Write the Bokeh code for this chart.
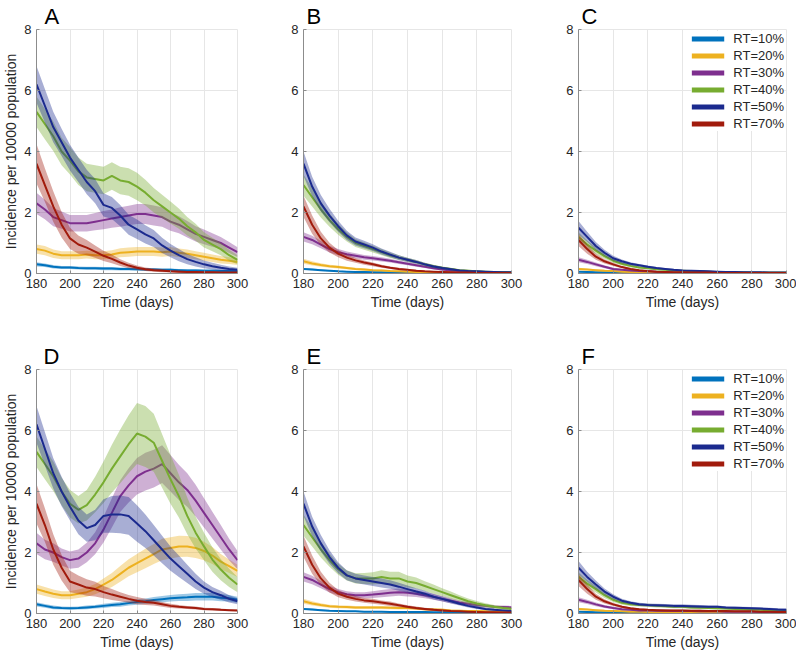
from bokeh.plotting import figure
from bokeh.layouts import row, column
from bokeh.models import Range1d, FixedTicker, Legend, LegendItem
from bokeh.embed import file_html
from bokeh.resources import INLINE

# ---------------- data ----------------
DAYS = [180, 185, 190, 195, 200, 205, 210, 215, 220, 225, 230, 235, 240,
        245, 250, 255, 260, 265, 270, 275, 280, 285, 290, 295, 300]
X_TICKS = [180, 200, 220, 240, 260, 280, 300]
Y_TICKS = [0, 2, 4, 6, 8]
LABELS = ["RT=10%", "RT=20%", "RT=30%", "RT=40%", "RT=50%", "RT=70%"]
COLORS = ["#0072BD", "#EDB120", "#7E2F8E", "#77AC30", "#1B2A8E", "#A11B0C"]
PANEL_LETTERS = ["A", "B", "C", "D", "E", "F"]

# Panel A
A10 = [0.30,0.27,0.22,0.20,0.20, 0.18,0.17,0.17,0.16,0.16, 0.15,0.15,0.14,0.13,0.13, 0.12,0.12,0.11,0.10,0.10, 0.09,0.09,0.08,0.08,0.07]
A20 = [0.80,0.75,0.65,0.60,0.60, 0.60,0.62,0.60,0.60,0.62, 0.68,0.70,0.72,0.72,0.72, 0.70,0.72,0.68,0.65,0.60, 0.55,0.50,0.45,0.42,0.38]
A30 = [2.30,2.10,1.85,1.75,1.65, 1.65,1.65,1.70,1.75,1.80, 1.85,1.90,1.95,1.95,1.90, 1.85,1.70,1.60,1.45,1.30, 1.20,1.10,1.00,0.85,0.70]
A40 = [5.30,4.90,4.50,4.00,3.70, 3.35,3.15,3.10,3.05,3.20, 3.05,3.00,2.85,2.65,2.40, 2.20,2.00,1.80,1.55,1.35, 1.10,0.95,0.80,0.60,0.45]
A50 = [6.20,5.50,4.80,4.30,3.80, 3.40,3.00,2.70,2.25,2.15, 1.90,1.60,1.45,1.28,1.15, 0.92,0.75,0.60,0.47,0.38, 0.30,0.24,0.19,0.15,0.12]
A70 = [3.60,2.90,2.20,1.60,1.15, 0.95,0.85,0.72,0.58,0.48, 0.36,0.26,0.19,0.14,0.11, 0.09,0.07,0.06,0.05,0.05, 0.04,0.04,0.03,0.03,0.03]
A10_B = [0.07,0.06,0.06,0.05,0.05, 0.05,0.05,0.05,0.05,0.05, 0.05,0.05,0.05,0.05,0.05, 0.04,0.04,0.04,0.04,0.04, 0.04,0.04,0.04,0.04,0.04]
A20_B = [0.15,0.15,0.14,0.13,0.13, 0.13,0.13,0.13,0.13,0.14, 0.15,0.15,0.15,0.15,0.15, 0.15,0.15,0.14,0.14,0.13, 0.13,0.12,0.12,0.11,0.10]
A30_B = [0.35,0.32,0.30,0.28,0.27, 0.27,0.27,0.28,0.30,0.30, 0.32,0.32,0.33,0.33,0.33, 0.32,0.30,0.28,0.27,0.25, 0.24,0.22,0.20,0.18,0.16]
A40_B = [0.50,0.50,0.48,0.45,0.45, 0.45,0.45,0.45,0.45,0.45, 0.45,0.45,0.45,0.42,0.40, 0.38,0.36,0.33,0.30,0.28, 0.25,0.22,0.20,0.18,0.15]
A50_B = [0.60,0.55,0.50,0.45,0.42, 0.40,0.40,0.40,0.38,0.36, 0.35,0.33,0.32,0.30,0.28, 0.25,0.22,0.20,0.17,0.15, 0.13,0.11,0.10,0.08,0.07]
A70_B = [0.65,0.55,0.50,0.42,0.35, 0.30,0.25,0.20,0.17,0.14, 0.11,0.09,0.07,0.06,0.05, 0.05,0.04,0.04,0.03,0.03, 0.03,0.03,0.03,0.03,0.03]

# Panel B
B10 = [0.15,0.13,0.11,0.09,0.07, 0.06,0.05,0.05,0.04,0.04, 0.03,0.03,0.03,0.02,0.02, 0.02,0.02,0.02,0.01,0.01, 0.01,0.01,0.01,0.01,0.01]
B20 = [0.40,0.33,0.28,0.24,0.21, 0.18,0.15,0.13,0.11,0.10, 0.08,0.07,0.06,0.05,0.05, 0.04,0.04,0.03,0.03,0.03, 0.02,0.02,0.02,0.02,0.02]
B30 = [1.20,1.10,0.95,0.80,0.70, 0.63,0.58,0.53,0.50,0.46, 0.42,0.37,0.32,0.27,0.22, 0.17,0.13,0.10,0.08,0.06, 0.05,0.04,0.03,0.03,0.02]
B40 = [2.90,2.50,2.10,1.75,1.45, 1.20,1.00,0.90,0.80,0.70, 0.60,0.52,0.45,0.38,0.30, 0.24,0.19,0.15,0.11,0.09, 0.07,0.06,0.05,0.05,0.04]
B50 = [3.60,2.85,2.30,1.90,1.55, 1.25,1.05,0.95,0.85,0.72, 0.62,0.52,0.45,0.38,0.30, 0.23,0.18,0.14,0.10,0.08, 0.07,0.06,0.05,0.04,0.04]
B70 = [2.20,1.60,1.15,0.85,0.65, 0.52,0.43,0.36,0.30,0.24, 0.19,0.15,0.12,0.09,0.07, 0.06,0.05,0.04,0.03,0.03, 0.02,0.02,0.02,0.02,0.02]
B10_B = [0.03,0.03,0.03,0.02,0.02, 0.02,0.02,0.02,0.02,0.02, 0.01,0.01,0.01,0.01,0.01, 0.01,0.01,0.01,0.01,0.01, 0.01,0.01,0.01,0.01,0.01]
B20_B = [0.08,0.07,0.06,0.05,0.05, 0.04,0.04,0.04,0.03,0.03, 0.03,0.03,0.02,0.02,0.02, 0.02,0.02,0.02,0.01,0.01, 0.01,0.01,0.01,0.01,0.01]
B30_B = [0.15,0.14,0.12,0.11,0.10, 0.09,0.08,0.08,0.07,0.07, 0.06,0.06,0.05,0.05,0.04, 0.04,0.03,0.03,0.03,0.02, 0.02,0.02,0.02,0.02,0.02]
B40_B = [0.35,0.30,0.26,0.22,0.18, 0.15,0.13,0.12,0.11,0.10, 0.09,0.08,0.07,0.06,0.05, 0.05,0.04,0.04,0.03,0.03, 0.03,0.02,0.02,0.02,0.02]
B50_B = [0.40,0.32,0.27,0.22,0.18, 0.15,0.13,0.12,0.11,0.10, 0.09,0.08,0.07,0.06,0.05, 0.05,0.04,0.04,0.03,0.03, 0.03,0.02,0.02,0.02,0.02]
B70_B = [0.35,0.30,0.22,0.16,0.12, 0.10,0.08,0.07,0.06,0.05, 0.04,0.04,0.03,0.03,0.02, 0.02,0.02,0.02,0.01,0.01, 0.01,0.01,0.01,0.01,0.01]

# Panel C
C10 = [0.06,0.05,0.04,0.04,0.03, 0.03,0.02,0.02,0.02,0.02, 0.01,0.01,0.01,0.01,0.01, 0.01,0.01,0.01,0.01,0.01, 0.01,0.01,0.01,0.01,0.01]
C20 = [0.15,0.13,0.11,0.09,0.08, 0.06,0.05,0.04,0.04,0.03, 0.03,0.02,0.02,0.02,0.02, 0.01,0.01,0.01,0.01,0.01, 0.01,0.01,0.01,0.01,0.01]
C30 = [0.45,0.38,0.30,0.22,0.15, 0.12,0.10,0.08,0.07,0.06, 0.05,0.04,0.04,0.03,0.03, 0.03,0.02,0.02,0.02,0.02, 0.02,0.02,0.02,0.02,0.02]
C40 = [1.20,0.95,0.75,0.57,0.42, 0.32,0.25,0.20,0.17,0.14, 0.12,0.10,0.09,0.08,0.07, 0.06,0.05,0.05,0.04,0.04, 0.03,0.03,0.03,0.03,0.03]
C50 = [1.50,1.20,0.90,0.68,0.50, 0.40,0.32,0.27,0.22,0.18, 0.15,0.12,0.10,0.09,0.08, 0.07,0.06,0.05,0.05,0.04, 0.04,0.04,0.03,0.03,0.03]
C70 = [1.10,0.80,0.55,0.40,0.30, 0.21,0.15,0.11,0.08,0.06, 0.05,0.04,0.04,0.03,0.03, 0.03,0.02,0.02,0.02,0.02, 0.02,0.02,0.02,0.02,0.02]
C10_B = [0.02,0.02,0.02,0.02,0.01, 0.01,0.01,0.01,0.01,0.01, 0.01,0.01,0.01,0.01,0.01, 0.01,0.01,0.01,0.01,0.01, 0.01,0.01,0.01,0.01,0.01]
C20_B = [0.04,0.03,0.03,0.03,0.02, 0.02,0.02,0.02,0.01,0.01, 0.01,0.01,0.01,0.01,0.01, 0.01,0.01,0.01,0.01,0.01, 0.01,0.01,0.01,0.01,0.01]
C30_B = [0.08,0.07,0.06,0.05,0.04, 0.03,0.03,0.02,0.02,0.02, 0.02,0.01,0.01,0.01,0.01, 0.01,0.01,0.01,0.01,0.01, 0.01,0.01,0.01,0.01,0.01]
C40_B = [0.15,0.13,0.11,0.09,0.07, 0.06,0.05,0.04,0.03,0.03, 0.03,0.02,0.02,0.02,0.02, 0.02,0.02,0.02,0.02,0.02, 0.02,0.02,0.02,0.02,0.02]
C50_B = [0.22,0.17,0.13,0.10,0.08, 0.06,0.05,0.04,0.04,0.03, 0.03,0.03,0.02,0.02,0.02, 0.02,0.02,0.02,0.02,0.02, 0.02,0.02,0.02,0.02,0.02]
C70_B = [0.20,0.15,0.10,0.07,0.05, 0.04,0.03,0.02,0.02,0.02, 0.01,0.01,0.01,0.01,0.01, 0.01,0.01,0.01,0.01,0.01, 0.01,0.01,0.01,0.01,0.01]

# Panel D
D10 = [0.30,0.25,0.20,0.18,0.17, 0.18,0.20,0.22,0.25,0.28, 0.30,0.34,0.38,0.40,0.44, 0.47,0.50,0.52,0.53,0.55, 0.55,0.55,0.52,0.50,0.45]
D20 = [0.80,0.72,0.65,0.60,0.60, 0.65,0.70,0.80,0.95,1.10, 1.30,1.50,1.65,1.80,1.95, 2.10,2.15,2.20,2.20,2.15, 2.05,1.90,1.70,1.55,1.40]
D30 = [2.30,2.10,2.00,1.85,1.75, 1.80,2.00,2.30,2.75,3.30, 3.85,4.20,4.50,4.65,4.75, 4.90,4.60,4.30,4.05,3.70, 3.30,2.90,2.50,2.10,1.75]
D40 = [5.30,4.90,4.50,4.00,3.60, 3.40,3.55,3.90,4.30,4.75, 5.15,5.55,5.90,5.80,5.60, 5.00,4.40,3.85,3.20,2.65, 2.20,1.77,1.44,1.17,0.95]
D50 = [6.20,5.40,4.60,4.00,3.50, 3.05,2.80,2.90,3.20,3.25, 3.25,3.20,2.95,2.70,2.40, 2.10,1.80,1.55,1.30,1.05, 0.85,0.70,0.60,0.48,0.40]
D70 = [3.60,2.90,2.10,1.50,1.05, 0.95,0.85,0.80,0.70,0.62, 0.55,0.48,0.42,0.38,0.35, 0.30,0.25,0.22,0.20,0.18, 0.15,0.14,0.12,0.11,0.10]
D10_B = [0.07,0.06,0.06,0.05,0.05, 0.05,0.06,0.06,0.07,0.07, 0.08,0.08,0.09,0.09,0.10, 0.10,0.11,0.11,0.12,0.12, 0.12,0.12,0.12,0.11,0.10]
D20_B = [0.15,0.15,0.14,0.13,0.13, 0.14,0.15,0.17,0.20,0.23, 0.26,0.28,0.30,0.32,0.33, 0.35,0.35,0.35,0.34,0.33, 0.30,0.28,0.25,0.22,0.20]
D30_B = [0.35,0.32,0.30,0.28,0.28, 0.30,0.32,0.36,0.42,0.48, 0.52,0.56,0.60,0.62,0.62, 0.62,0.60,0.58,0.55,0.52, 0.48,0.44,0.40,0.35,0.30]
D40_B = [0.50,0.50,0.48,0.45,0.45, 0.45,0.50,0.58,0.68,0.78, 0.88,0.95,1.00,1.00,0.95, 0.88,0.80,0.70,0.60,0.52, 0.45,0.40,0.35,0.30,0.25]
D50_B = [0.60,0.55,0.50,0.48,0.45, 0.45,0.45,0.50,0.55,0.60, 0.62,0.62,0.60,0.55,0.50, 0.45,0.40,0.35,0.30,0.25, 0.20,0.17,0.15,0.12,0.10]
D70_B = [0.65,0.55,0.50,0.42,0.35, 0.30,0.27,0.24,0.20,0.18, 0.15,0.13,0.12,0.10,0.09, 0.08,0.07,0.06,0.05,0.05, 0.04,0.04,0.04,0.03,0.03]

# Panel E
E10 = [0.15,0.13,0.11,0.09,0.08, 0.07,0.07,0.06,0.06,0.06, 0.05,0.05,0.05,0.05,0.05, 0.04,0.04,0.04,0.04,0.03, 0.03,0.03,0.03,0.03,0.03]
E20 = [0.40,0.33,0.28,0.24,0.22, 0.21,0.20,0.20,0.20,0.20, 0.19,0.18,0.18,0.16,0.14, 0.13,0.12,0.10,0.09,0.08, 0.08,0.07,0.06,0.05,0.05]
E30 = [1.20,1.10,0.95,0.80,0.70, 0.63,0.60,0.60,0.62,0.65, 0.68,0.70,0.68,0.65,0.60, 0.55,0.48,0.42,0.36,0.32, 0.28,0.25,0.22,0.21,0.20]
E40 = [2.90,2.50,2.10,1.75,1.45, 1.25,1.15,1.15,1.15,1.20, 1.15,1.15,1.05,1.00,0.90, 0.80,0.70,0.60,0.50,0.40, 0.33,0.27,0.22,0.18,0.15]
E50 = [3.60,2.85,2.30,1.85,1.50, 1.25,1.15,1.10,1.05,1.00, 0.95,0.88,0.80,0.72,0.65, 0.55,0.48,0.40,0.32,0.25, 0.20,0.15,0.12,0.10,0.08]
E70 = [2.20,1.60,1.15,0.85,0.65, 0.55,0.48,0.43,0.40,0.36, 0.32,0.27,0.22,0.18,0.15, 0.12,0.10,0.08,0.07,0.06, 0.05,0.04,0.04,0.03,0.03]
E10_B = [0.03,0.03,0.03,0.02,0.02, 0.02,0.02,0.02,0.02,0.02, 0.02,0.02,0.02,0.02,0.02, 0.02,0.02,0.02,0.02,0.02, 0.02,0.02,0.02,0.02,0.02]
E20_B = [0.08,0.07,0.06,0.05,0.05, 0.05,0.05,0.05,0.05,0.05, 0.05,0.05,0.05,0.04,0.04, 0.04,0.04,0.03,0.03,0.03, 0.03,0.03,0.02,0.02,0.02]
E30_B = [0.15,0.14,0.12,0.11,0.10, 0.10,0.10,0.10,0.11,0.12, 0.12,0.12,0.12,0.11,0.10, 0.10,0.09,0.08,0.07,0.06, 0.06,0.05,0.05,0.05,0.05]
E40_B = [0.35,0.30,0.26,0.22,0.18, 0.17,0.17,0.18,0.20,0.22, 0.22,0.22,0.20,0.18,0.16, 0.15,0.13,0.12,0.10,0.09, 0.08,0.07,0.06,0.05,0.05]
E50_B = [0.40,0.32,0.27,0.22,0.18, 0.16,0.15,0.15,0.15,0.15, 0.14,0.13,0.12,0.11,0.10, 0.09,0.08,0.07,0.06,0.05, 0.05,0.04,0.04,0.03,0.03]
E70_B = [0.35,0.30,0.22,0.16,0.12, 0.10,0.09,0.08,0.08,0.07, 0.07,0.06,0.05,0.05,0.04, 0.04,0.03,0.03,0.02,0.02, 0.02,0.02,0.02,0.02,0.02]

# Panel F
F10 = [0.06,0.05,0.04,0.04,0.03, 0.03,0.03,0.02,0.02,0.02, 0.02,0.02,0.02,0.02,0.02, 0.02,0.02,0.02,0.02,0.02, 0.02,0.02,0.02,0.02,0.02]
F20 = [0.15,0.13,0.11,0.09,0.08, 0.07,0.06,0.06,0.05,0.05, 0.05,0.05,0.05,0.04,0.04, 0.04,0.04,0.04,0.04,0.03, 0.03,0.03,0.03,0.03,0.03]
F30 = [0.45,0.38,0.30,0.23,0.18, 0.14,0.12,0.10,0.10,0.09, 0.09,0.08,0.08,0.08,0.07, 0.07,0.07,0.06,0.06,0.06, 0.06,0.05,0.05,0.05,0.05]
F40 = [1.20,0.98,0.80,0.60,0.45, 0.35,0.30,0.28,0.27,0.25, 0.24,0.22,0.22,0.20,0.19, 0.18,0.17,0.16,0.15,0.14, 0.13,0.12,0.11,0.10,0.10]
F50 = [1.50,1.20,0.95,0.72,0.55, 0.42,0.35,0.30,0.28,0.27, 0.26,0.25,0.25,0.24,0.23, 0.22,0.22,0.20,0.19,0.18, 0.17,0.16,0.15,0.13,0.12]
F70 = [1.10,0.80,0.55,0.40,0.30, 0.22,0.17,0.14,0.12,0.11, 0.10,0.10,0.10,0.09,0.09, 0.08,0.08,0.08,0.07,0.07, 0.07,0.06,0.06,0.05,0.05]
F10_B = [0.02,0.02,0.02,0.02,0.01, 0.01,0.01,0.01,0.01,0.01, 0.01,0.01,0.01,0.01,0.01, 0.01,0.01,0.01,0.01,0.01, 0.01,0.01,0.01,0.01,0.01]
F20_B = [0.04,0.03,0.03,0.03,0.02, 0.02,0.02,0.02,0.02,0.02, 0.02,0.02,0.02,0.02,0.02, 0.02,0.02,0.02,0.02,0.02, 0.02,0.02,0.02,0.02,0.02]
F30_B = [0.08,0.07,0.06,0.05,0.04, 0.03,0.03,0.03,0.03,0.03, 0.03,0.03,0.03,0.03,0.03, 0.03,0.03,0.03,0.03,0.03, 0.03,0.03,0.03,0.03,0.03]
F40_B = [0.15,0.13,0.11,0.09,0.07, 0.06,0.05,0.05,0.05,0.05, 0.05,0.05,0.05,0.05,0.05, 0.04,0.04,0.04,0.04,0.04, 0.04,0.04,0.04,0.04,0.04]
F50_B = [0.22,0.17,0.13,0.10,0.08, 0.06,0.05,0.05,0.05,0.05, 0.05,0.05,0.05,0.05,0.05, 0.04,0.04,0.04,0.04,0.04, 0.04,0.04,0.04,0.04,0.04]
F70_B = [0.20,0.15,0.10,0.07,0.05, 0.04,0.03,0.03,0.03,0.03, 0.03,0.03,0.03,0.03,0.03, 0.02,0.02,0.02,0.02,0.02, 0.02,0.02,0.02,0.02,0.02]

PANELS = {
    "A": ([A10, A20, A30, A40, A50, A70], [A10_B, A20_B, A30_B, A40_B, A50_B, A70_B]),
    "B": ([B10, B20, B30, B40, B50, B70], [B10_B, B20_B, B30_B, B40_B, B50_B, B70_B]),
    "C": ([C10, C20, C30, C40, C50, C70], [C10_B, C20_B, C30_B, C40_B, C50_B, C70_B]),
    "D": ([D10, D20, D30, D40, D50, D70], [D10_B, D20_B, D30_B, D40_B, D50_B, D70_B]),
    "E": ([E10, E20, E30, E40, E50, E70], [E10_B, E20_B, E30_B, E40_B, E50_B, E70_B]),
    "F": ([F10, F20, F30, F40, F50, F70], [F10_B, F20_B, F30_B, F40_B, F50_B, F70_B]),
}

# ---------------- styling / layout ----------------
FONT = "Liberation Sans"
AXIS_COLOR = "#8c8c8c"
GRID_COLOR = "#e6e6e6"
TEXT_COLOR = "#262626"

# (width, height, left, right, top, bottom, title offset, ylabel, legend)
SPEC = {
    "A": (270, 330, 29, 33, 29, 57, 8, True, False),
    "B": (275, 330, 33, 34, 29, 57, 3, False, False),
    "C": (251, 330, 33, 10, 29, 57, 3, False, True),
    "D": (270, 322, 29, 33, 39, 38, 7, True, False),
    "E": (275, 322, 33, 34, 39, 38, 3, False, False),
    "F": (251, 322, 33, 10, 39, 38, 3, False, True),
}


def make_panel(letter):
    w, h, bl, br, bt, bb, toff, ylab, has_legend = SPEC[letter]
    series, bands = PANELS[letter]
    p = figure(width=w, height=h, x_range=Range1d(180, 300), y_range=Range1d(0, 8),
               output_backend="svg", toolbar_location=None,
               min_border_left=bl, min_border_right=br,
               min_border_top=bt, min_border_bottom=bb,
               background_fill_color="white", border_fill_color="white")
    p.title.text = letter
    p.title.text_font = FONT
    p.title.text_font_size = "22px"
    p.title.text_font_style = "normal"
    p.title.text_color = "black"
    p.title.align = "left"
    p.title.offset = toff
    p.title.standoff = 2

    p.outline_line_color = GRID_COLOR
    p.xgrid.ticker = FixedTicker(ticks=X_TICKS)
    p.ygrid.ticker = FixedTicker(ticks=Y_TICKS)
    p.grid.grid_line_color = GRID_COLOR
    p.grid.grid_line_width = 1

    p.xaxis.ticker = FixedTicker(ticks=X_TICKS)
    p.yaxis.ticker = FixedTicker(ticks=Y_TICKS)
    p.xaxis.axis_label = "Time (days)"
    if ylab:
        p.yaxis.axis_label = "Incidence per 10000 population"
    for ax in p.xaxis + p.yaxis:
        ax.axis_line_color = AXIS_COLOR
        ax.major_tick_line_color = AXIS_COLOR
        ax.major_tick_in = 3
        ax.major_tick_out = 0
        ax.minor_tick_in = 0
        ax.minor_tick_out = 0
        ax.major_label_text_font = FONT
        ax.major_label_text_font_size = "13px"
        ax.major_label_text_color = TEXT_COLOR
        ax.axis_label_text_font = FONT
        ax.axis_label_text_font_size = "14px"
        ax.axis_label_text_font_style = "normal"
        ax.axis_label_text_color = TEXT_COLOR
    p.xaxis.major_label_standoff = 5
    p.xaxis.axis_label_standoff = 3
    p.yaxis.major_label_standoff = 5
    p.yaxis.axis_label_standoff = 2

    for ys, bs, c in zip(series, bands, COLORS):
        lo = [max(y - b, 0.0) for y, b in zip(ys, bs)]
        hi = [y + b for y, b in zip(ys, bs)]
        p.varea(x=DAYS, y1=lo, y2=hi, fill_color=c, fill_alpha=0.38)
        p.line(DAYS, ys, line_color=c, line_width=2)

    if has_legend:
        items = []
        for c, lab in zip(COLORS, LABELS):
            # legend swatch renderer: placed below the visible y range
            r = p.line(x=[DAYS[0], DAYS[1]], y=[-5, -5], line_color=c, line_width=5)
            items.append(LegendItem(label=lab, renderers=[r]))
        leg = Legend(items=items, location="top_right",
                     margin=2, padding=5, spacing=2,
                     glyph_width=33, glyph_height=15, label_height=15,
                     label_standoff=9,
                     label_text_font=FONT, label_text_font_size="13px",
                     label_text_color=TEXT_COLOR,
                     border_line_color=None,
                     background_fill_color="white", background_fill_alpha=1.0)
        p.add_layout(leg)
    return p


figs = {k: make_panel(k) for k in PANEL_LETTERS}
layout = column(row(figs["A"], figs["B"], figs["C"]),
                row(figs["D"], figs["E"], figs["F"]))

open("out.html", "w").write(file_html(layout, INLINE))
